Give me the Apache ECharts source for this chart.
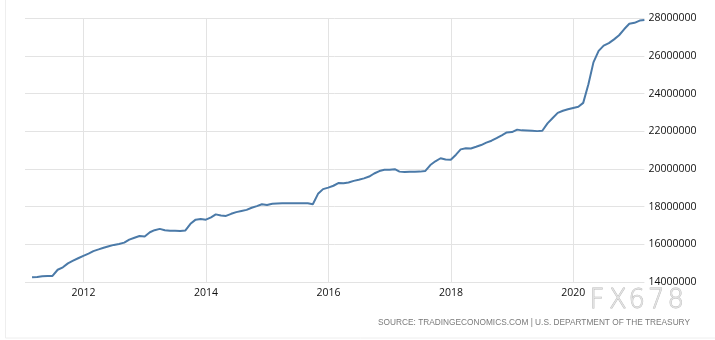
<!DOCTYPE html>
<html>
<head>
<meta charset="utf-8">
<script src="https://cdn.jsdelivr.net/npm/echarts@6/dist/echarts.min.js"></script>
<style>
  html, body { margin: 0; padding: 0; background: #fff; }
  #chart { width: 715px; height: 340px; }
</style>
</head>
<body>
<div id="chart"></div>
<script>
// US government debt, USD million, monthly (end of month), Feb 2011 – Feb 2021
const startYear = 2011;
const startMonth = 2;
const debtValues = [
  14250000, 14270000, 14310000, 14320000, 14320000, 14650000, 14780000, 14990000, 15130000, 15260000,
  15390000, 15510000, 15640000, 15730000, 15820000, 15900000, 15970000, 16020000, 16090000, 16250000,
  16350000, 16440000, 16420000, 16640000, 16750000, 16820000, 16750000, 16720000, 16720000, 16710000,
  16740000, 17090000, 17310000, 17340000, 17310000, 17430000, 17590000, 17530000, 17510000, 17620000,
  17710000, 17770000, 17830000, 17940000, 18030000, 18130000, 18090000, 18150000, 18170000, 18180000,
  18180000, 18180000, 18180000, 18180000, 18180000, 18130000, 18680000, 18930000, 19010000, 19110000,
  19250000, 19240000, 19280000, 19370000, 19430000, 19500000, 19600000, 19760000, 19890000, 19960000,
  19960000, 19990000, 19860000, 19840000, 19850000, 19850000, 19860000, 19890000, 20210000, 20410000,
  20570000, 20500000, 20490000, 20760000, 21040000, 21100000, 21090000, 21180000, 21270000, 21400000,
  21500000, 21640000, 21790000, 21940000, 21960000, 22090000, 22050000, 22040000, 22030000, 22010000,
  22030000, 22420000, 22710000, 22980000, 23090000, 23170000, 23240000, 23300000, 23510000, 24500000,
  25660000, 26270000, 26550000, 26680000, 26880000, 27100000, 27430000, 27710000, 27760000, 27880000,
  27910000
];
const xTickYears = [2012, 2014, 2016, 2018, 2020];
const yTicks = [14000000, 16000000, 18000000, 20000000, 22000000, 24000000, 26000000, 28000000];
const sourceText = 'SOURCE: TRADINGECONOMICS.COM | U.S. DEPARTMENT OF THE TREASURY';
const watermark = ['F', 'X', '6', '7', '8'];

// month-end timestamp for each observation
function monthEnd(i) {
  const m0 = startMonth - 1 + i;
  const y = startYear + Math.floor(m0 / 12);
  const m = m0 % 12;
  return new Date(y, m + 1, 0).getTime();
}
const seriesData = debtValues.map((v, i) => [monthEnd(i), v]);
const yearTicks = xTickYears.map(y => new Date(y, 0, 1).getTime());

const chart = echarts.init(document.getElementById('chart'), null, { renderer: 'canvas' });

const labelFont = '"Open Sans", "Liberation Sans", sans-serif';
const gridColor = '#e3e3e3';

chart.setOption({
  animation: false,
  backgroundColor: '#ffffff',
  grid: { left: 25, right: 70.6, top: 18.3, bottom: 58 },
  xAxis: {
    // timestamps on a linear scale; year ticks placed explicitly
    type: 'value',
    scale: true,
    min: new Date(2011, 0, 17).getTime(),
    max: seriesData[seriesData.length - 1][0],
    axisLine: { show: false },
    axisTick: { show: false, customValues: yearTicks },
    axisLabel: {
      customValues: yearTicks,
      formatter: v => String(new Date(v).getFullYear()),
      color: '#111',
      fontFamily: labelFont,
      fontSize: 10.5,
      margin: 6
    },
    splitLine: { show: true, lineStyle: { color: gridColor, width: 1 } }
  },
  yAxis: {
    type: 'value',
    position: 'right',
    min: yTicks[0],
    max: yTicks[yTicks.length - 1],
    interval: yTicks[1] - yTicks[0],
    axisLine: { show: false },
    axisTick: { show: false },
    axisLabel: {
      color: '#111',
      fontFamily: labelFont,
      fontSize: 10.5,
      margin: 4,
      formatter: v => String(v)
    },
    splitLine: { show: true, lineStyle: { color: gridColor, width: 1 } }
  },
  series: [{
    type: 'line',
    data: seriesData,
    showSymbol: false,
    symbol: 'none',
    lineStyle: { color: '#4b7aa8', width: 2 },
    z: 3
  }],
  graphic: [
    {
      type: 'rect',
      shape: { x: 5.5, y: -5, width: 720, height: 343 },
      style: { fill: 'none', stroke: '#eeeeee', lineWidth: 1 },
      silent: true,
      z: -1
    },
    {
      type: 'group',
      left: 589,
      top: 288,
      children: watermark.map((ch, i) => ({
        type: 'text',
        x: i * 19.5,
        y: 0,
        style: {
          text: ch,
          font: '300 26px "DejaVu Sans", sans-serif',
          fill: '#e2e2e2',
          stroke: '#b9b9b9',
          lineWidth: 0.8
        }
      }))
    },
    {
      type: 'text',
      right: 25,
      top: 319,
      style: {
        text: sourceText,
        font: '8.3px "Liberation Sans", Arial, sans-serif',
        fill: '#7a7a7a'
      }
    }
  ]
});
</script>
</body>
</html>
